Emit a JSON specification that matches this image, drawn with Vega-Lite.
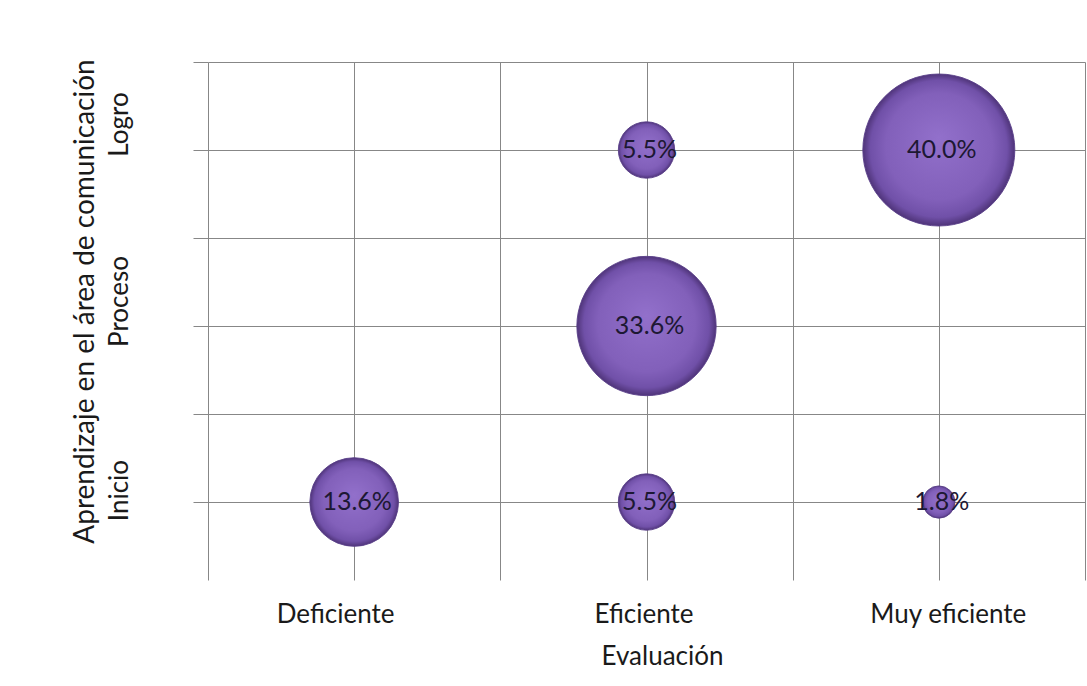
{
  "$schema": "https://vega.github.io/schema/vega-lite/v6.json",
  "width": 877,
  "height": 518,
  "autosize": {"type": "none"},
  "padding": {"left": 208, "top": 62, "right": 2, "bottom": 106},
  "background": "white",
  "config": {"view": {"stroke": null}, "font": "Lato"},
  "data": {
    "values": [
      {"evaluacion": 1, "aprendizaje": 1, "pct": 0.136},
      {"evaluacion": 2, "aprendizaje": 1, "pct": 0.055},
      {"evaluacion": 2, "aprendizaje": 2, "pct": 0.336},
      {"evaluacion": 2, "aprendizaje": 3, "pct": 0.055},
      {"evaluacion": 3, "aprendizaje": 3, "pct": 0.400},
      {"evaluacion": 3, "aprendizaje": 1, "pct": 0.018}
    ]
  },
  "encoding": {
    "x": {
      "field": "evaluacion",
      "type": "quantitative",
      "scale": {"domain": [0.5, 3.5], "nice": false, "zero": false},
      "axis": {
        "values": [0.5, 1, 1.5, 2, 2.5, 3, 3.5],
        "labelExpr": "datum.value === 1 ? 'Deficiente' : datum.value === 2 ? 'Eficiente' : datum.value === 3 ? 'Muy eficiente' : ''",
        "grid": true,
        "gridColor": "#878787",
        "gridWidth": 1,
        "gridOpacity": 1,
        "domain": false,
        "ticks": false,
        "tickSize": 0,
        "labelPadding": 42,
        "labelBaseline": "alphabetic",
        "labelAlign": "center",
        "labelFontSize": 26,
        "labelFont": "Lato",
        "labelColor": "#1a1a1a",
        "labelFlush": false,
        "labelOverlap": false,
        "labelOffset": {"condition": [{"test": "datum.value === 1", "value": -19}, {"test": "datum.value === 3", "value": 9}], "value": -3},
        "title": "Evaluación",
        "titleFont": "Lato",
        "titleFontSize": 26,
        "titleFontWeight": "normal",
        "titleColor": "#1a1a1a",
        "titleX": 454,
        "titleY": 84,
        "titleAlign": "center",
        "titleBaseline": "alphabetic"
      }
    },
    "y": {
      "field": "aprendizaje",
      "type": "quantitative",
      "scale": {"domain": [0.557, 3.5], "nice": false, "zero": false},
      "axis": {
        "values": [1, 1.5, 2, 2.5, 3, 3.5],
        "labelExpr": "datum.value === 1 ? 'Inicio' : datum.value === 2 ? 'Proceso' : datum.value === 3 ? 'Logro' : ''",
        "grid": true,
        "gridColor": "#878787",
        "gridWidth": 1,
        "gridOpacity": 1,
        "domain": false,
        "ticks": true,
        "tickSize": 15,
        "tickColor": "#878787",
        "tickWidth": 1,
        "labelAngle": 270,
        "labelAlign": "center",
        "labelBaseline": "alphabetic",
        "labelPadding": 66,
        "labelFontSize": 26,
        "labelFont": "Lato",
        "labelColor": "#1a1a1a",
        "labelFlush": false,
        "labelOverlap": false,
        "labelOffset": {"condition": [{"test": "datum.value === 1", "value": -12}, {"test": "datum.value === 2", "value": -25}], "value": -26},
        "title": "Aprendizaje en el área de comunicación",
        "titleFont": "Lato",
        "titleFontSize": 28,
        "titleFontWeight": "normal",
        "titleColor": "#1a1a1a",
        "titleAngle": 270,
        "titleX": -115,
        "titleY": 239,
        "titleAlign": "center",
        "titleBaseline": "alphabetic"
      }
    }
  },
  "layer": [
    {
      "mark": {
        "type": "point",
        "shape": "circle",
        "filled": true,
        "opacity": 1,
        "fill": {
          "gradient": "radial",
          "x1": 0.5, "y1": 0.42, "r1": 0,
          "x2": 0.5, "y2": 0.5, "r2": 0.5,
          "stops": [
            {"offset": 0, "color": "#9270CB"},
            {"offset": 0.7, "color": "#8260BA"},
            {"offset": 0.9, "color": "#7050A8"},
            {"offset": 1, "color": "#4F3479"}
          ]
        },
        "stroke": "#5A3F8A",
        "strokeWidth": 1,
        "strokeOpacity": 0.9
      },
      "encoding": {
        "size": {
          "field": "pct",
          "type": "quantitative",
          "scale": {"domain": [0, 0.4], "range": [0, 23100], "zero": true},
          "legend": null
        }
      }
    },
    {
      "mark": {"type": "text", "fontSize": 25, "font": "Lato", "color": "#1d1833", "dx": 3, "baseline": "middle", "align": "center"},
      "encoding": {
        "text": {"field": "pct", "type": "quantitative", "format": ".1%"}
      }
    }
  ]
}
